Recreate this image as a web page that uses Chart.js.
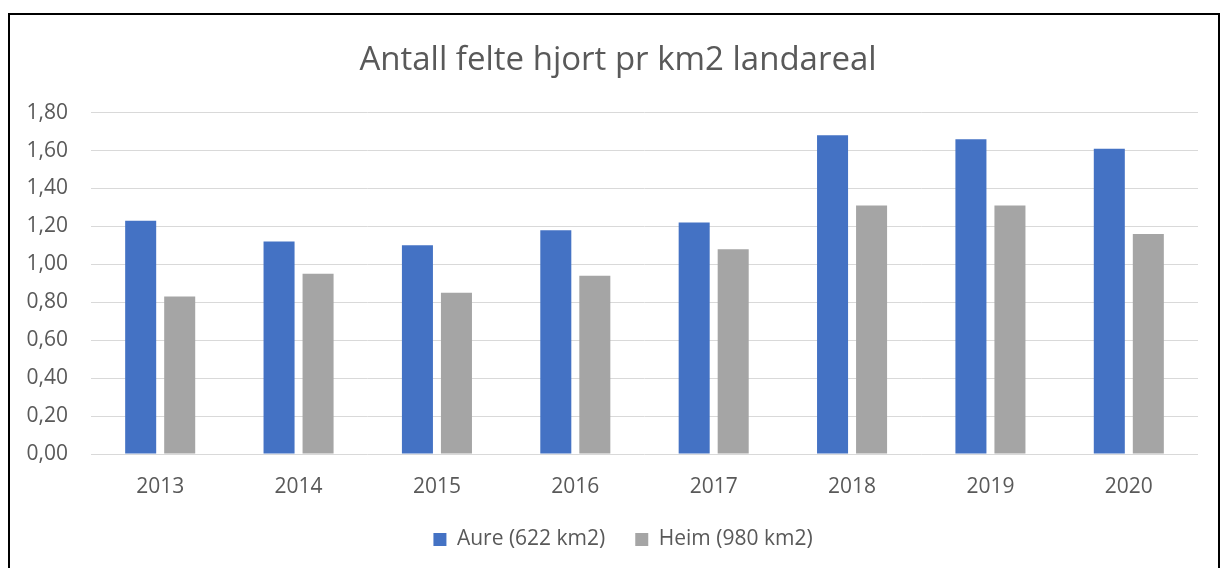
<!DOCTYPE html>
<html>
<head>
<meta charset="utf-8">
<script src="https://cdn.jsdelivr.net/npm/chart.js@4"></script>
<style>
  body { margin: 0; background: #fff; }
  #frame { position: absolute; left: 8px; top: 13px; width: 1208px; height: 600px; border: 2px solid #000; }
  #wrap { position: relative; width: 1208px; height: 553px; }
</style>
</head>
<body>
<div id="frame"><div id="wrap"><canvas id="myChart"></canvas></div></div>
<script>
// data
const years = ['2013', '2014', '2015', '2016', '2017', '2018', '2019', '2020'];
const aure = [1.23, 1.12, 1.10, 1.18, 1.22, 1.68, 1.66, 1.61];  // Aure (622 km2)
const heim = [0.83, 0.95, 0.85, 0.94, 1.08, 1.31, 1.31, 1.16];  // Heim (980 km2)
const yTicks = ['0,00', '0,20', '0,40', '0,60', '0,80', '1,00', '1,20', '1,40', '1,60', '1,80'];

const textColor = '#595959';
const font = 'Open Sans';

const ctx = document.getElementById('myChart').getContext('2d');

// title and legend sit a little right of centre in the original
const shiftBoxes = {
  id: 'shiftBoxes',
  afterLayout(chart) {
    chart.legend.left += 19;
    chart.legend.right += 19;
    chart.titleBlock.left += 14;
    chart.titleBlock.right += 14;
  }
};

new Chart(ctx, {
  type: 'bar',
  data: {
    labels: years,
    datasets: [
      { label: 'Aure (622 km2)', data: aure, backgroundColor: '#4472C4' },
      { label: 'Heim (980 km2)', data: heim, backgroundColor: '#A5A5A5' }
    ]
  },
  plugins: [shiftBoxes],
  options: {
    responsive: true,
    maintainAspectRatio: false,
    animation: false,
    categoryPercentage: 0.564,
    barPercentage: 0.795,
    layout: { padding: { left: 0, right: 20, top: 0, bottom: 8 } },
    plugins: {
      title: {
        display: true,
        text: 'Antall felte hjort pr km2 landareal',
        color: textColor,
        font: { family: font, size: 33, weight: 'normal' },
        padding: { top: 26, bottom: 32 }
      },
      legend: {
        position: 'bottom',
        labels: {
          color: textColor,
          font: { family: font, size: 21 },
          boxWidth: 13,
          boxHeight: 13,
          padding: 30
        }
      },
      tooltip: { enabled: false }
    },
    scales: {
      x: {
        grid: { display: false },
        border: { display: false },
        ticks: { color: textColor, font: { family: font, size: 21 }, padding: 12 },
        afterFit: scale => { scale.height = 45; }
      },
      y: {
        min: 0,
        max: 1.8,
        border: { display: false },
        grid: { color: '#d9d9d9', drawTicks: false },
        ticks: {
          stepSize: 0.2,
          color: textColor,
          font: { family: font, size: 21 },
          padding: 23,
          callback: (value, index) => yTicks[index]
        },
        afterFit: scale => { scale.width = 81; }
      }
    }
  }
});
</script>
</body>
</html>
